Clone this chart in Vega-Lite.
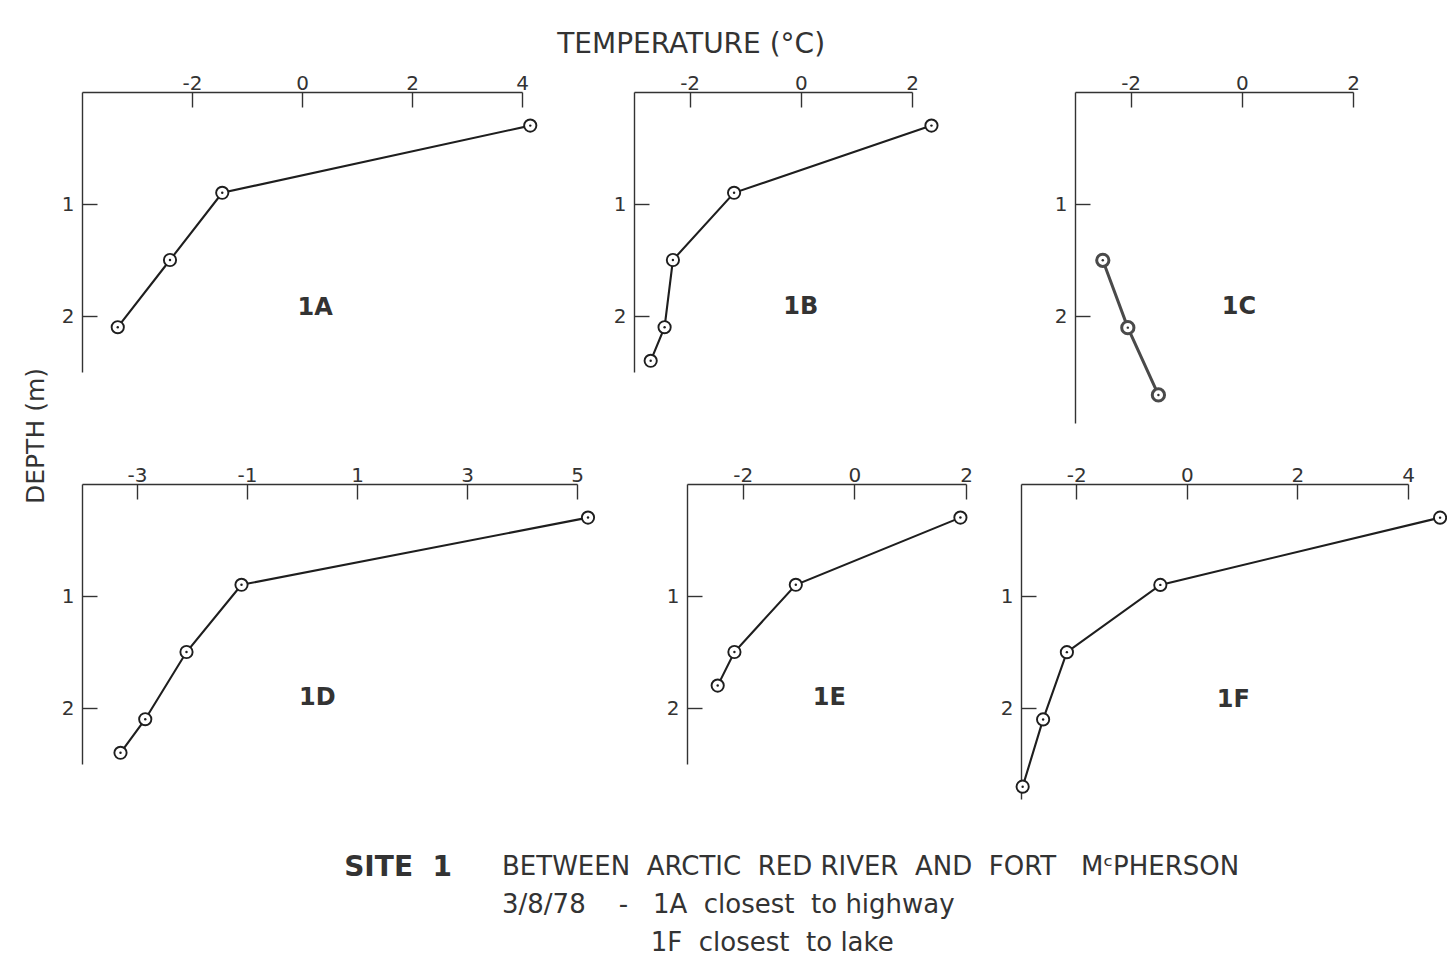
{
  "$schema": "https://vega.github.io/schema/vega-lite/v6.json",
  "background": "white",
  "padding": {"left": 24, "top": 31, "right": 0, "bottom": 0},
  "config": {
    "font": "DejaVu Sans",
    "view": {"stroke": null},
    "axis": {"grid": false, "labelFlush": false, "labelOverlap": false, "domainColor": "#333", "tickColor": "#333", "labelColor": "#333", "labelFontSize": 20, "domainWidth": 1.4, "tickWidth": 1.4, "tickSize": -15},
    "axisX": {"labelPadding": 14},
    "axisY": {"labelPadding": 23},
    "title": {"color": "#333", "fontWeight": "normal"}
  },
  "datasets": {
    "profiles": [
      {"site": "1A", "depth": 0.3, "temp": 4.15},
      {"site": "1A", "depth": 0.9, "temp": -1.45},
      {"site": "1A", "depth": 1.5, "temp": -2.4},
      {"site": "1A", "depth": 2.1, "temp": -3.35},
      {"site": "1B", "depth": 0.3, "temp": 2.35},
      {"site": "1B", "depth": 0.9, "temp": -1.2},
      {"site": "1B", "depth": 1.5, "temp": -2.3},
      {"site": "1B", "depth": 2.1, "temp": -2.45},
      {"site": "1B", "depth": 2.4, "temp": -2.7},
      {"site": "1C", "depth": 1.5, "temp": -2.5},
      {"site": "1C", "depth": 2.1, "temp": -2.05},
      {"site": "1C", "depth": 2.7, "temp": -1.5},
      {"site": "1D", "depth": 0.3, "temp": 5.2},
      {"site": "1D", "depth": 0.9, "temp": -1.1},
      {"site": "1D", "depth": 1.5, "temp": -2.1},
      {"site": "1D", "depth": 2.1, "temp": -2.85},
      {"site": "1D", "depth": 2.4, "temp": -3.3},
      {"site": "1E", "depth": 0.3, "temp": 1.9},
      {"site": "1E", "depth": 0.9, "temp": -1.05},
      {"site": "1E", "depth": 1.5, "temp": -2.15},
      {"site": "1E", "depth": 1.8, "temp": -2.45},
      {"site": "1F", "depth": 0.3, "temp": 4.58},
      {"site": "1F", "depth": 0.9, "temp": -0.48},
      {"site": "1F", "depth": 1.5, "temp": -2.17},
      {"site": "1F", "depth": 2.1, "temp": -2.6},
      {"site": "1F", "depth": 2.7, "temp": -2.97}
    ]
  },
  "data": {"name": "profiles"},
  "title": {"text": "TEMPERATURE (°C)", "fontSize": 28, "anchor": "middle", "dx": -46, "offset": 14},
  "spacing": 44,
  "vconcat": [
    {
      "title": {"text": "DEPTH (m)", "orient": "left", "anchor": "middle", "fontSize": 25, "offset": 12},
      "spacing": 42,
      "vconcat": [
        {
          "spacing": 30,
          "hconcat": [
            {
              "width": 440, "height": 280,
              "encoding": {
                "x": {"field": "temp", "type": "quantitative", "scale": {"domain": [-4, 4], "nice": false, "zero": false}, "axis": {"orient": "top", "values": [-2, 0, 2, 4], "title": null, "labelExpr": "replace(datum.label, '−', '-')"}},
                "y": {"field": "depth", "type": "quantitative", "scale": {"domain": [0, 2.5], "nice": false, "zero": false, "reverse": true}, "axis": {"orient": "left", "values": [1, 2], "title": null}}
              },
              "layer": [
                {"transform": [{"filter": "datum.site === '1A'"}], "mark": {"type": "line", "color": "#1e1e1e", "strokeWidth": 2.1}, "encoding": {"order": {"field": "depth", "type": "quantitative"}}},
                {"transform": [{"filter": "datum.site === '1A'"}], "mark": {"type": "point", "shape": "circle", "filled": true, "size": 150, "fill": "white", "stroke": "#1e1e1e", "strokeWidth": 1.9, "opacity": 1}},
                {"transform": [{"filter": "datum.site === '1A'"}], "mark": {"type": "point", "shape": "circle", "filled": true, "size": 6, "color": "#1e1e1e", "opacity": 1}},
                {"transform": [{"filter": "datum.site === '1A' && datum.depth === 1.5"}], "mark": {"type": "text", "text": "1A", "fontSize": 24, "fontWeight": "bold", "color": "#333"},
                 "encoding": {
                   "x": {"datum": 0.24, "type": "quantitative", "scale": {"domain": [-4, 4], "nice": false, "zero": false}, "axis": {"orient": "top", "values": [-2, 0, 2, 4], "title": null, "labelExpr": "replace(datum.label, '−', '-')"}},
                   "y": {"datum": 1.93, "type": "quantitative", "scale": {"domain": [0, 2.5], "nice": false, "zero": false, "reverse": true}, "axis": {"orient": "left", "values": [1, 2], "title": null}}}}
              ]
            },
            {"width": 12, "height": 1, "data": {"values": []}, "mark": "point"},
            {
              "width": 278, "height": 280,
              "encoding": {
                "x": {"field": "temp", "type": "quantitative", "scale": {"domain": [-3, 2], "nice": false, "zero": false}, "axis": {"orient": "top", "values": [-2, 0, 2], "title": null, "labelExpr": "replace(datum.label, '−', '-')"}},
                "y": {"field": "depth", "type": "quantitative", "scale": {"domain": [0, 2.5], "nice": false, "zero": false, "reverse": true}, "axis": {"orient": "left", "values": [1, 2], "title": null}}
              },
              "layer": [
                {"transform": [{"filter": "datum.site === '1B'"}], "mark": {"type": "line", "color": "#1e1e1e", "strokeWidth": 2.1}, "encoding": {"order": {"field": "depth", "type": "quantitative"}}},
                {"transform": [{"filter": "datum.site === '1B'"}], "mark": {"type": "point", "shape": "circle", "filled": true, "size": 150, "fill": "white", "stroke": "#1e1e1e", "strokeWidth": 1.9, "opacity": 1}},
                {"transform": [{"filter": "datum.site === '1B'"}], "mark": {"type": "point", "shape": "circle", "filled": true, "size": 6, "color": "#1e1e1e", "opacity": 1}},
                {"transform": [{"filter": "datum.site === '1B' && datum.depth === 1.5"}], "mark": {"type": "text", "text": "1B", "fontSize": 24, "fontWeight": "bold", "color": "#333"},
                 "encoding": {
                   "x": {"datum": 0, "type": "quantitative", "scale": {"domain": [-3, 2], "nice": false, "zero": false}, "axis": {"orient": "top", "values": [-2, 0, 2], "title": null, "labelExpr": "replace(datum.label, '−', '-')"}},
                   "y": {"datum": 1.92, "type": "quantitative", "scale": {"domain": [0, 2.5], "nice": false, "zero": false, "reverse": true}, "axis": {"orient": "left", "values": [1, 2], "title": null}}}}
              ]
            },
            {"width": 52, "height": 1, "data": {"values": []}, "mark": "point"},
            {
              "width": 278, "height": 331,
              "encoding": {
                "x": {"field": "temp", "type": "quantitative", "scale": {"domain": [-3, 2], "nice": false, "zero": false}, "axis": {"orient": "top", "values": [-2, 0, 2], "title": null, "labelExpr": "replace(datum.label, '−', '-')"}},
                "y": {"field": "depth", "type": "quantitative", "scale": {"domain": [0, 2.95], "nice": false, "zero": false, "reverse": true}, "axis": {"orient": "left", "values": [1, 2], "title": null}}
              },
              "layer": [
                {"transform": [{"filter": "datum.site === '1C'"}], "mark": {"type": "line", "color": "#4a4a4a", "strokeWidth": 3}, "encoding": {"order": {"field": "depth", "type": "quantitative"}}},
                {"transform": [{"filter": "datum.site === '1C'"}], "mark": {"type": "point", "shape": "circle", "filled": true, "size": 150, "fill": "white", "stroke": "#4a4a4a", "strokeWidth": 3, "opacity": 1}},
                {"transform": [{"filter": "datum.site === '1C'"}], "mark": {"type": "point", "shape": "circle", "filled": true, "size": 6, "color": "#333", "opacity": 1}},
                {"transform": [{"filter": "datum.site === '1C' && datum.depth === 1.5"}], "mark": {"type": "text", "text": "1C", "fontSize": 24, "fontWeight": "bold", "color": "#333"},
                 "encoding": {
                   "x": {"datum": -0.05, "type": "quantitative", "scale": {"domain": [-3, 2], "nice": false, "zero": false}, "axis": {"orient": "top", "values": [-2, 0, 2], "title": null, "labelExpr": "replace(datum.label, '−', '-')"}},
                   "y": {"datum": 1.92, "type": "quantitative", "scale": {"domain": [0, 2.95], "nice": false, "zero": false, "reverse": true}, "axis": {"orient": "left", "values": [1, 2], "title": null}}}}
              ]
            }
          ]
        },
        {
          "spacing": 27,
          "hconcat": [
            {
              "width": 495, "height": 280,
              "encoding": {
                "x": {"field": "temp", "type": "quantitative", "scale": {"domain": [-4, 5], "nice": false, "zero": false}, "axis": {"orient": "top", "values": [-3, -1, 1, 3, 5], "title": null, "labelExpr": "replace(datum.label, '−', '-')"}},
                "y": {"field": "depth", "type": "quantitative", "scale": {"domain": [0, 2.5], "nice": false, "zero": false, "reverse": true}, "axis": {"orient": "left", "values": [1, 2], "title": null}}
              },
              "layer": [
                {"transform": [{"filter": "datum.site === '1D'"}], "mark": {"type": "line", "color": "#1e1e1e", "strokeWidth": 2.1}, "encoding": {"order": {"field": "depth", "type": "quantitative"}}},
                {"transform": [{"filter": "datum.site === '1D'"}], "mark": {"type": "point", "shape": "circle", "filled": true, "size": 150, "fill": "white", "stroke": "#1e1e1e", "strokeWidth": 1.9, "opacity": 1}},
                {"transform": [{"filter": "datum.site === '1D'"}], "mark": {"type": "point", "shape": "circle", "filled": true, "size": 6, "color": "#1e1e1e", "opacity": 1}},
                {"transform": [{"filter": "datum.site === '1D' && datum.depth === 1.5"}], "mark": {"type": "text", "text": "1D", "fontSize": 24, "fontWeight": "bold", "color": "#333"},
                 "encoding": {
                   "x": {"datum": 0.28, "type": "quantitative", "scale": {"domain": [-4, 5], "nice": false, "zero": false}, "axis": {"orient": "top", "values": [-3, -1, 1, 3, 5], "title": null, "labelExpr": "replace(datum.label, '−', '-')"}},
                   "y": {"datum": 1.91, "type": "quantitative", "scale": {"domain": [0, 2.5], "nice": false, "zero": false, "reverse": true}, "axis": {"orient": "left", "values": [1, 2], "title": null}}}}
              ]
            },
            {"width": 14, "height": 1, "data": {"values": []}, "mark": "point"},
            {
              "width": 279, "height": 280,
              "encoding": {
                "x": {"field": "temp", "type": "quantitative", "scale": {"domain": [-3, 2], "nice": false, "zero": false}, "axis": {"orient": "top", "values": [-2, 0, 2], "title": null, "labelExpr": "replace(datum.label, '−', '-')"}},
                "y": {"field": "depth", "type": "quantitative", "scale": {"domain": [0, 2.5], "nice": false, "zero": false, "reverse": true}, "axis": {"orient": "left", "values": [1, 2], "title": null}}
              },
              "layer": [
                {"transform": [{"filter": "datum.site === '1E'"}], "mark": {"type": "line", "color": "#1e1e1e", "strokeWidth": 2.1}, "encoding": {"order": {"field": "depth", "type": "quantitative"}}},
                {"transform": [{"filter": "datum.site === '1E'"}], "mark": {"type": "point", "shape": "circle", "filled": true, "size": 150, "fill": "white", "stroke": "#1e1e1e", "strokeWidth": 1.9, "opacity": 1}},
                {"transform": [{"filter": "datum.site === '1E'"}], "mark": {"type": "point", "shape": "circle", "filled": true, "size": 6, "color": "#1e1e1e", "opacity": 1}},
                {"transform": [{"filter": "datum.site === '1E' && datum.depth === 1.5"}], "mark": {"type": "text", "text": "1E", "fontSize": 24, "fontWeight": "bold", "color": "#333"},
                 "encoding": {
                   "x": {"datum": -0.45, "type": "quantitative", "scale": {"domain": [-3, 2], "nice": false, "zero": false}, "axis": {"orient": "top", "values": [-2, 0, 2], "title": null, "labelExpr": "replace(datum.label, '−', '-')"}},
                   "y": {"datum": 1.91, "type": "quantitative", "scale": {"domain": [0, 2.5], "nice": false, "zero": false, "reverse": true}, "axis": {"orient": "left", "values": [1, 2], "title": null}}}}
              ]
            },
            {
              "width": 387, "height": 315,
              "encoding": {
                "x": {"field": "temp", "type": "quantitative", "scale": {"domain": [-3, 4], "nice": false, "zero": false}, "axis": {"orient": "top", "values": [-2, 0, 2, 4], "title": null, "labelExpr": "replace(datum.label, '−', '-')"}},
                "y": {"field": "depth", "type": "quantitative", "scale": {"domain": [0, 2.81], "nice": false, "zero": false, "reverse": true}, "axis": {"orient": "left", "values": [1, 2], "title": null}}
              },
              "layer": [
                {"transform": [{"filter": "datum.site === '1F'"}], "mark": {"type": "line", "color": "#1e1e1e", "strokeWidth": 2.1}, "encoding": {"order": {"field": "depth", "type": "quantitative"}}},
                {"transform": [{"filter": "datum.site === '1F'"}], "mark": {"type": "point", "shape": "circle", "filled": true, "size": 150, "fill": "white", "stroke": "#1e1e1e", "strokeWidth": 1.9, "opacity": 1}},
                {"transform": [{"filter": "datum.site === '1F'"}], "mark": {"type": "point", "shape": "circle", "filled": true, "size": 6, "color": "#1e1e1e", "opacity": 1}},
                {"transform": [{"filter": "datum.site === '1F' && datum.depth === 1.5"}], "mark": {"type": "text", "text": "1F", "fontSize": 24, "fontWeight": "bold", "color": "#333"},
                 "encoding": {
                   "x": {"datum": 0.84, "type": "quantitative", "scale": {"domain": [-3, 4], "nice": false, "zero": false}, "axis": {"orient": "top", "values": [-2, 0, 2, 4], "title": null, "labelExpr": "replace(datum.label, '−', '-')"}},
                   "y": {"datum": 1.93, "type": "quantitative", "scale": {"domain": [0, 2.81], "nice": false, "zero": false, "reverse": true}, "axis": {"orient": "left", "values": [1, 2], "title": null}}}}
              ]
            }
          ]
        }
      ]
    },
    {
      "spacing": 50,
      "hconcat": [
        {"width": 370, "height": 1, "data": {"values": []}, "mark": "point",
         "title": {"text": "SITE\u00a0\u00a01", "orient": "bottom", "anchor": "end", "fontSize": 28, "fontWeight": "bold", "offset": 10}},
        {"width": 880, "height": 1, "data": {"values": []}, "mark": "point",
         "title": {"text": ["BETWEEN\u00a0\u00a0ARCTIC\u00a0\u00a0RED\u00a0RIVER\u00a0\u00a0AND\u00a0\u00a0FORT\u00a0\u00a0\u00a0M\u1d9cPHERSON", "3/8/78\u00a0\u00a0\u00a0\u00a0-\u00a0\u00a0\u00a01A\u00a0\u00a0closest\u00a0\u00a0to\u00a0highway", "\u200b\u00a0\u00a0\u00a0\u00a0\u00a0\u00a0\u00a0\u00a0\u00a0\u00a0\u00a0\u00a0\u00a0\u00a0\u00a0\u00a0\u00a0\u00a01F\u00a0\u00a0closest\u00a0\u00a0to\u00a0lake"], "orient": "bottom", "anchor": "start", "fontSize": 26, "lineHeight": 38, "offset": 10}}
      ]
    }
  ]
}
